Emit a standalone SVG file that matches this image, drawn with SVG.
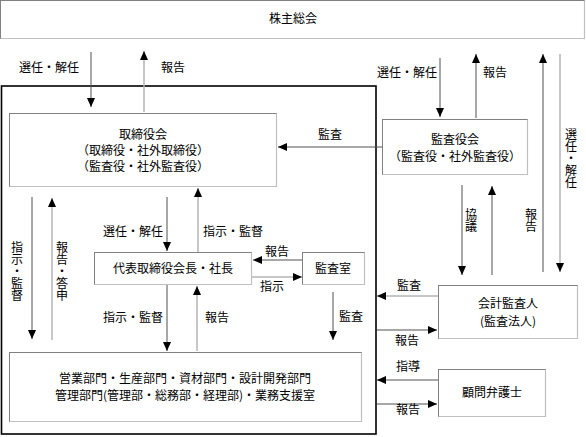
<svg xmlns="http://www.w3.org/2000/svg" width="586" height="437" viewBox="0 0 586 437">
<style>
text{font-family:"Noto Sans CJK JP","Noto Sans",sans-serif;font-size:12px;fill:#000;text-anchor:middle}
.v{writing-mode:vertical-rl}
.box{fill:#fff;stroke:#808080;stroke-width:1}
.sh{stroke:#c0c0c0;stroke-width:1.2;fill:none}
.d{stroke:#505050;stroke-width:1;fill:none;marker-end:url(#ah)}
.g{stroke:#b4b4b4;stroke-width:1.5;fill:none;marker-end:url(#ah)}
</style>
<defs>
<marker id="ah" viewBox="0 0 10 10" refX="10" refY="5" markerWidth="9" markerHeight="8" markerUnits="userSpaceOnUse" orient="auto" preserveAspectRatio="none"><path d="M0,0 L10,5 L0,10z" fill="#000"/></marker>
</defs>
<rect x="0" y="0" width="586" height="437" fill="#fff"/>

<g id="shareholders">
<rect class="box" x="0.5" y="0.5" width="584" height="38"/>
<path class="sh" d="M0.5,38.5 H584.5 V0.5"/>
<text x="293" y="23">株主総会</text>
</g>

<g id="company">
<rect x="1.5" y="86" width="374.5" height="348" fill="none" stroke="#000" stroke-width="1.6"/>
</g>

<g id="board">
<rect class="box" x="9.5" y="113.5" width="267" height="73"/>
<path class="sh" d="M9.5,186.5 H276.5 V113.5"/>
<text x="143" y="139">取締役会</text>
<text x="143" y="155">（取締役・社外取締役）</text>
<text x="143" y="171">（監査役・社外監査役）</text>
</g>

<g id="auditboard">
<rect class="box" x="382.5" y="119.5" width="145" height="55"/>
<path class="sh" d="M382.5,174.5 H527.5 V119.5"/>
<text x="455" y="144">監査役会</text>
<text x="455" y="161">（監査役・社外監査役）</text>
</g>

<g id="president">
<rect class="box" x="94.5" y="252.5" width="157" height="32"/>
<path class="sh" d="M94.5,284.5 H251.5 V252.5"/>
<text x="173" y="273">代表取締役会長・社長</text>
</g>

<g id="auditoffice">
<rect class="box" x="302.5" y="252.5" width="62" height="32"/>
<path class="sh" d="M302.5,284.5 H364.5 V252.5"/>
<text x="333" y="273">監査室</text>
</g>

<g id="accountant">
<rect class="box" x="438.5" y="285.5" width="139" height="53"/>
<path class="sh" d="M438.5,338.5 H577.5 V285.5"/>
<text x="508" y="308">会計監査人</text>
<text x="508" y="326">(監査法人)</text>
</g>

<g id="departments">
<rect class="box" x="9.5" y="352.5" width="352" height="69"/>
<path class="sh" d="M9.5,421.5 H361.5 V352.5"/>
<text x="185" y="383">営業部門・生産部門・資材部門・設計開発部門</text>
<text x="185" y="400">管理部門(管理部・総務部・経理部)・業務支援室</text>
</g>

<g id="lawyer">
<rect class="box" x="438.5" y="369.5" width="107" height="47"/>
<path class="sh" d="M438.5,416.5 H545.5 V369.5"/>
<text x="492" y="397">顧問弁護士</text>
</g>

<g id="connectors">
<path class="d" d="M91,52 V107"/>
<path class="g" d="M144,112 V51"/>
<path class="d" d="M440,58 V117"/>
<path class="d" d="M476,118 V54"/>
<path class="d" d="M543,272 V54"/>
<path class="g" d="M560,54 V272"/>
<path class="d" d="M382,147 H278"/>
<path class="d" d="M32,197 V339"/>
<path class="g" d="M52,340 V198"/>
<path class="d" d="M167,197 V251"/>
<path class="g" d="M198,252 V188"/>
<path class="d" d="M302,260 H253"/>
<path class="g" d="M252,277 H302"/>
<path class="d" d="M167,285 V351"/>
<path class="g" d="M197,351 V286"/>
<path class="d" d="M333,292 V340"/>
<path class="d" d="M462,185 V275"/>
<path class="d" d="M492,275 V186"/>
<path class="g" d="M438,296 H377"/>
<path class="d" d="M377,330 H437"/>
<path class="d" d="M438,380 H377"/>
<path class="d" d="M377,404 H437"/>
</g>

<g id="labels">
<text x="49" y="72">選任・解任</text>
<text x="173" y="72">報告</text>
<text x="407" y="77">選任・解任</text>
<text x="495" y="77">報告</text>
<text x="330" y="139">監査</text>
<text x="133" y="236">選任・解任</text>
<text x="233" y="236">指示・監督</text>
<text x="277" y="256">報告</text>
<text x="272" y="291">指示</text>
<text x="133" y="322">指示・監督</text>
<text x="217" y="322">報告</text>
<text x="351" y="321">監査</text>
<text x="409" y="290">監査</text>
<text x="407" y="345">報告</text>
<text x="408" y="371">指導</text>
<text x="408" y="414">報告</text>
<text class="v" x="17" y="271">指示・監督</text>
<text class="v" x="62" y="271">報告・答申</text>
<text class="v" x="571" y="158">選任・解任</text>
<text class="v" x="471" y="220">協議</text>
<text class="v" x="531" y="220">報告</text>
</g>
</svg>
